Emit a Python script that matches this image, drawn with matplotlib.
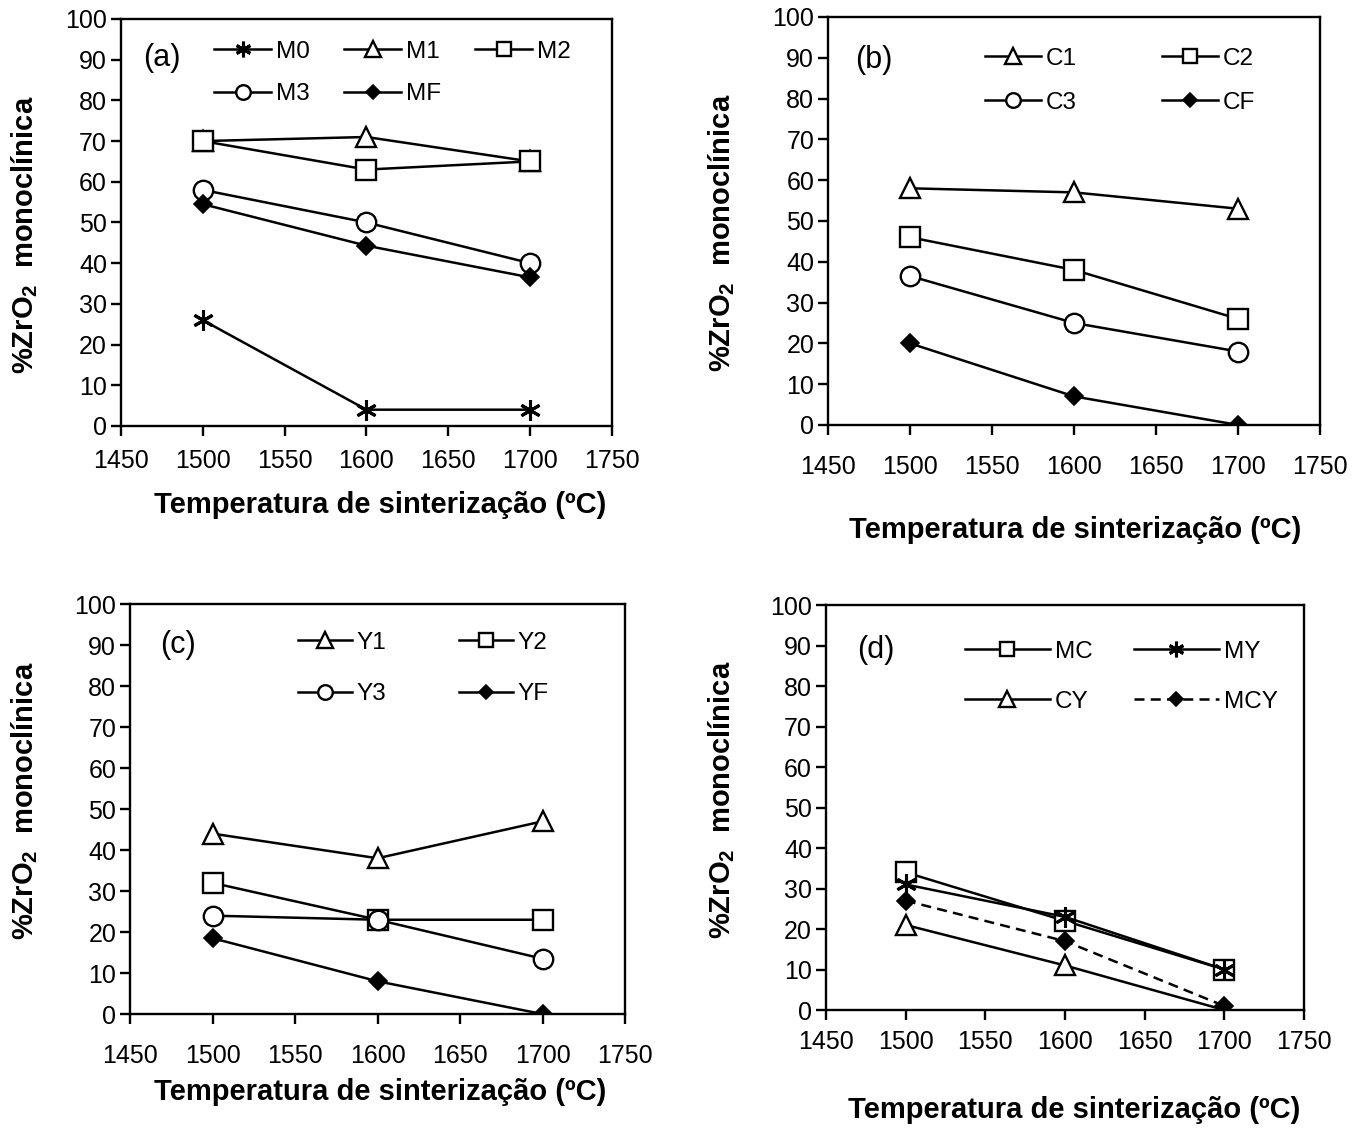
import matplotlib
matplotlib.use("Agg")
import matplotlib.pyplot as plt

plt.rcParams['font.family'] = ['Liberation Sans', 'DejaVu Sans']
plt.rcParams['mathtext.fontset'] = 'custom'
plt.rcParams['mathtext.rm'] = 'Liberation Sans'
plt.rcParams['mathtext.bf'] = 'Liberation Sans:bold'

temps = [1500, 1600, 1700]
xticks = [1450, 1500, 1550, 1600, 1650, 1700, 1750]
yticks = [0, 10, 20, 30, 40, 50, 60, 70, 80, 90, 100]

# (a)
M0 = [26, 4, 4]
M1 = [70, 71, 65]
M2 = [70, 63, 65]
M3 = [58, 50, 40]
MF = [54.5, 44.3, 36.5]
# (b)
C1 = [58, 57, 53]
C2 = [46, 38, 26]
C3 = [36.5, 25, 18]
CF = [20, 7, 0]
# (c)
Y1 = [44, 38, 47]
Y2 = [32, 23, 23]
Y3 = [24, 23, 13.5]
YF = [18.5, 8, 0]
# (d)
MC = [34, 22, 10]
MY = [31, 23, 10]
CY = [21, 11, 0]
MCY = [27, 17, 1]

xlabel = 'Temperatura de sinterização (ºC)'
ylabel = r'%ZrO$_\mathbf{2}$  monoclínica'

STAR = (6, 2, 0)

fig = plt.figure(figsize=(13.59, 11.29), dpi=100)

def style(spec):
    if spec == 'tri':
        return dict(marker='^', mfc='white', mec='black', ms=14.5, mew=1.7)
    if spec == 'sq':
        return dict(marker='s', mfc='white', mec='black', ms=14, mew=1.7)
    if spec == 'circ':
        return dict(marker='o', mfc='white', mec='black', ms=14, mew=1.7)
    if spec == 'dia':
        return dict(marker='D', mfc='black', mec='black', ms=9.5, mew=1.2)
    if spec == 'star':
        return dict(marker=STAR, mfc='black', mec='black', ms=15, mew=2.2)

def setup(rect, tag, tag_xy, series, order, ncol, leg_anchor, handlelen, colsp,
          labsp, pad, ylab_xy, xlab_xy):
    ax = fig.add_axes(rect)
    handles = {}
    for name, vals, spec, dashed in series:
        h, = ax.plot(temps, vals, color='black', lw=1.8, label=name, **style(spec))
        if dashed:
            h.set_dashes((4, 2.5))
        handles[name] = h
    ax.set_xlim(1450, 1750)
    ax.set_ylim(0, 100)
    ax.set_xticks(xticks)
    ax.set_yticks(yticks)
    ax.set_xticklabels([str(t) for t in xticks])
    for s in ax.spines.values():
        s.set_linewidth(1.7)
    ax.tick_params(axis='both', direction='out', length=7, width=1.7,
                   labelsize=18)
    ax.tick_params(axis='x', pad=pad)
    ax.tick_params(axis='y', pad=3)
    ax.set_xlabel(xlabel, fontsize=21, fontweight='bold')
    ax.set_ylabel(ylabel, fontsize=21, fontweight='bold')
    ax.yaxis.set_label_coords(*ylab_xy)
    ax.xaxis.set_label_coords(*xlab_xy)
    ax.text(tag_xy[0], tag_xy[1], tag, transform=ax.transAxes, fontsize=22,
            ha='left', va='center')
    hs = [handles[n] for n in order]
    ax.legend(hs, order, ncol=ncol, loc='upper left', bbox_to_anchor=leg_anchor,
              frameon=False, fontsize=17.5, handlelength=handlelen,
              handletextpad=0.2, columnspacing=colsp, labelspacing=labsp,
              borderaxespad=0, borderpad=0, markerscale=0.75)
    return ax

setup([0.0890, 0.6227, 0.3613, 0.3605], '(a)', (0.045, 0.905),
      [('M0', M0, 'star', False), ('M1', M1, 'tri', False), ('M2', M2, 'sq', False),
       ('M3', M3, 'circ', False), ('MF', MF, 'dia', False)],
      ['M0', 'M3', 'M1', 'MF', 'M2'], 3, (0.19, 0.946), 2.35, 1.4, 0.83,
      9.5, (-0.165, 0.47), (0.528, -0.16))

setup([0.6093, 0.6236, 0.3620, 0.3614], '(b)', (0.055, 0.895),
      [('C1', C1, 'tri', False), ('C2', C2, 'sq', False),
       ('C3', C3, 'circ', False), ('CF', CF, 'dia', False)],
      ['C1', 'C3', 'C2', 'CF'], 2, (0.32, 0.924), 2.3, 3.5, 0.9,
      14.5, (-0.185, 0.47), (0.502, -0.223))

setup([0.0957, 0.1018, 0.3642, 0.3632], '(c)', (0.06, 0.9),
      [('Y1', Y1, 'tri', False), ('Y2', Y2, 'sq', False),
       ('Y3', Y3, 'circ', False), ('YF', YF, 'dia', False)],
      ['Y1', 'Y3', 'Y2', 'YF'], 2, (0.34, 0.932), 2.2, 3.0, 1.2,
      14.5, (-0.182, 0.52), (0.505, -0.156))

setup([0.6078, 0.1054, 0.3517, 0.3587], '(d)', (0.065, 0.889),
      [('MC', MC, 'sq', False), ('MY', MY, 'star', False),
       ('CY', CY, 'tri', False), ('MCY', MCY, 'dia', True)],
      ['MC', 'CY', 'MY', 'MCY'], 2, (0.29, 0.912), 3.5, 1.7, 1.15,
      7.5, (-0.186, 0.52), (0.519, -0.212))

fig.savefig('out.png', dpi=100)
